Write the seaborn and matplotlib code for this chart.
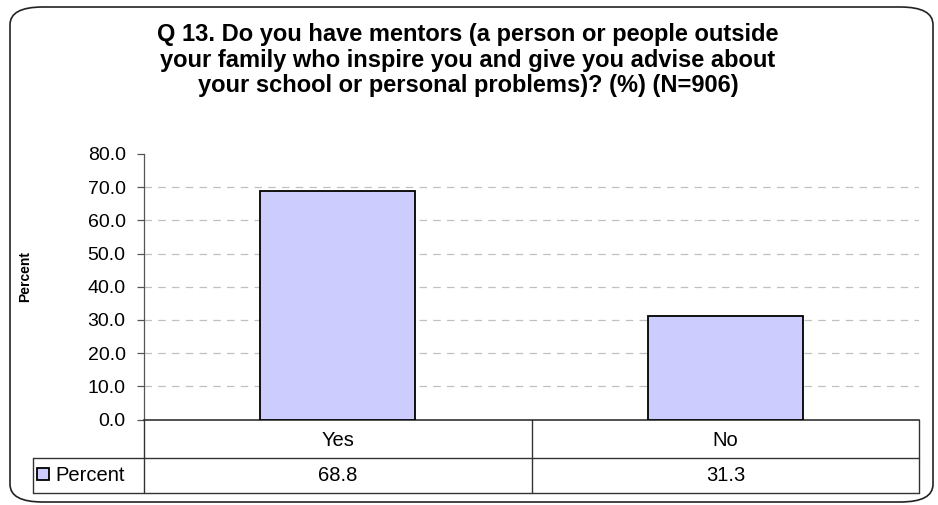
import numpy as np
import pandas as pd
import matplotlib.pyplot as plt
import seaborn as sns
from matplotlib.patches import FancyBboxPatch
from matplotlib.lines import Line2D

# data
categories = ["Yes", "No"]
percent = [68.8, 31.3]
series_name = "Percent"
title = ("Q 13. Do you have mentors (a person or people outside\n"
         "your family who inspire you and give you advise about\n"
         "your school or personal problems)? (%) (N=906)")
yticks = np.arange(0, 90, 10)

df = pd.DataFrame({"answer": categories, "value": percent})

sns.set_style("white")
plt.rcParams['font.family'] = ['Liberation Sans', 'DejaVu Sans']
plt.rcParams['text.color'] = 'black'
plt.rcParams['xtick.color'] = 'black'
plt.rcParams['ytick.color'] = 'black'
plt.rcParams['axes.labelcolor'] = 'black'

W, H = 938, 505
fig = plt.figure(figsize=(W / 100, H / 100), dpi=100)

# plot area in pixel terms of the reference
x0, x1 = 143.7, 919.3
y_top, y_zero = 154.0, 419.5
ax = fig.add_axes([x0 / W, (H - y_zero) / H, (x1 - x0) / W, (y_zero - y_top) / H])

sns.barplot(data=df, x="answer", y="value", ax=ax, color="#CCCCFF",
            edgecolor="black", linewidth=1.3, width=0.4, saturation=1,
            label=series_name, legend=False, zorder=3)

ax.set_ylim(0, 80)
ax.set_xlim(-0.5, 1.5)
ax.set_yticks(yticks)
ax.set_yticklabels([f"{v:.1f}" for v in yticks], fontsize=14)
ax.hlines(yticks[1:-1], -0.5, 1.5, colors="#c0c0c0", linestyles=(0, (6, 5)),
          linewidth=0.9, zorder=1)
ax.tick_params(axis="y", length=5, width=0.9, color="#555555", pad=8, left=True)
ax.tick_params(axis="x", length=0, pad=8, labelsize=14.5)
ax.set_xlabel("")
ax.set_ylabel("Percent", fontsize=10, fontweight="bold")
ax.yaxis.set_label_coords(-0.144, 0.537)

for s in ["top", "right"]:
    ax.spines[s].set_visible(False)
ax.spines["left"].set_color("#555555")
ax.spines["left"].set_linewidth(0.9)
ax.spines["bottom"].set_color("#222222")
ax.spines["bottom"].set_linewidth(1.1)

# data table under the axis
ph = y_zero - y_top
pw = x1 - x0
r1 = -(457.7 - y_zero) / ph
r2 = -(493.3 - y_zero) / ph
lx = (33.3 - x0) / pw
tc = "#333333"
tr = ax.transAxes
for seg in [([lx, 1], [r1, r1]), ([lx, 1], [r2, r2]), ([lx, lx], [r1, r2]),
            ([0, 0], [0, r2]), ([0.5, 0.5], [0, r2]), ([1, 1], [0, r2])]:
    ax.add_line(Line2D(seg[0], seg[1], transform=tr, color=tc, lw=1.0, clip_on=False))

blend = ax.get_xaxis_transform()
for i, v in enumerate(percent):
    ax.text(i, (r1 + r2) / 2, f"{v:.1f}", transform=blend, ha="center",
            va="center", fontsize=14.5)

handles = ax.containers[0].patches[:1]
ax.legend(handles, [series_name], loc="center left",
          bbox_to_anchor=(lx, (r1 + r2) / 2), frameon=False, fontsize=14.5,
          handlelength=0.6, handleheight=0.6, handletextpad=0.3,
          borderaxespad=0, borderpad=0.2)

fig.text(468 / W, 1 - 60 / H, title, ha="center", va="center", fontsize=17,
         fontweight="bold", linespacing=1.12)

frame = FancyBboxPatch((10 / W, 1 - 502 / H), 923 / W, 495 / H,
                       boxstyle="round,pad=0,rounding_size=0.035",
                       transform=fig.transFigure, facecolor="none",
                       edgecolor="#222222", linewidth=1.2, clip_on=False)
fig.patches.append(frame)

fig.savefig("out.png", dpi=100)
